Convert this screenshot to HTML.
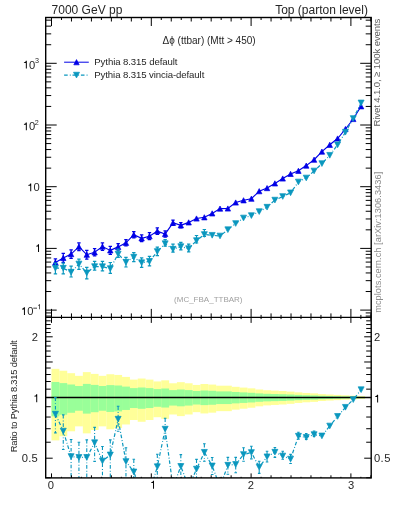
<!DOCTYPE html>
<html><head><meta charset="utf-8"><style>
html,body{margin:0;padding:0;background:#fff;width:393px;height:512px;overflow:hidden;position:relative}
.t{position:absolute;font-family:"Liberation Sans",sans-serif;white-space:nowrap;line-height:1;color:#000}
</style></head><body>
<svg width="393" height="512" viewBox="0 0 393 512" style="position:absolute;left:0;top:0">
<g fill="#ffff99" stroke="none"><rect x="51.50" y="368.84" width="7.89" height="71.56"/><rect x="59.34" y="370.74" width="7.89" height="65.50"/><rect x="67.18" y="373.18" width="7.89" height="58.10"/><rect x="75.01" y="375.84" width="7.89" height="50.51"/><rect x="82.85" y="372.13" width="7.89" height="61.23"/><rect x="90.69" y="373.89" width="7.89" height="56.04"/><rect x="98.53" y="375.84" width="7.89" height="50.51"/><rect x="106.37" y="374.24" width="7.89" height="55.03"/><rect x="114.21" y="374.95" width="7.89" height="53.01"/><rect x="122.04" y="376.91" width="7.89" height="47.57"/><rect x="129.88" y="379.61" width="7.89" height="40.39"/><rect x="137.72" y="378.53" width="7.89" height="43.23"/><rect x="145.56" y="379.61" width="7.89" height="40.39"/><rect x="153.40" y="381.44" width="7.89" height="35.75"/><rect x="161.24" y="380.34" width="7.89" height="38.52"/><rect x="169.07" y="383.28" width="7.89" height="31.21"/><rect x="176.91" y="382.17" width="7.89" height="33.93"/><rect x="184.75" y="383.28" width="7.89" height="31.21"/><rect x="192.59" y="384.95" width="7.89" height="27.21"/><rect x="200.43" y="384.02" width="7.89" height="29.42"/><rect x="208.27" y="384.58" width="7.89" height="28.09"/><rect x="216.10" y="385.70" width="7.89" height="25.45"/><rect x="223.94" y="385.70" width="7.89" height="25.45"/><rect x="231.78" y="386.83" width="7.89" height="22.83"/><rect x="239.62" y="387.58" width="7.89" height="21.11"/><rect x="247.46" y="388.34" width="7.89" height="19.39"/><rect x="255.30" y="389.48" width="7.89" height="16.84"/><rect x="263.13" y="390.25" width="7.89" height="15.15"/><rect x="270.97" y="390.63" width="7.89" height="14.32"/><rect x="278.81" y="391.02" width="7.89" height="13.48"/><rect x="286.65" y="391.60" width="7.89" height="12.23"/><rect x="294.49" y="392.37" width="7.89" height="10.57"/><rect x="302.32" y="392.96" width="7.89" height="9.33"/><rect x="310.16" y="393.35" width="7.89" height="8.51"/><rect x="318.00" y="394.13" width="7.89" height="6.87"/><rect x="325.84" y="394.53" width="7.89" height="6.05"/><rect x="333.68" y="394.92" width="7.89" height="5.24"/><rect x="341.52" y="395.31" width="7.89" height="4.43"/><rect x="349.35" y="395.71" width="7.89" height="3.62"/><rect x="357.19" y="396.11" width="7.89" height="2.81"/></g>
<g fill="#99ff99" stroke="none"><rect x="51.50" y="382.00" width="7.89" height="34.35"/><rect x="59.34" y="383.10" width="7.89" height="31.64"/><rect x="67.18" y="384.50" width="7.89" height="28.27"/><rect x="75.01" y="386.00" width="7.89" height="24.74"/><rect x="82.85" y="383.90" width="7.89" height="29.71"/><rect x="90.69" y="384.90" width="7.89" height="27.32"/><rect x="98.53" y="386.00" width="7.89" height="24.74"/><rect x="106.37" y="385.10" width="7.89" height="26.85"/><rect x="114.21" y="385.50" width="7.89" height="25.91"/><rect x="122.04" y="386.60" width="7.89" height="23.35"/><rect x="129.88" y="388.10" width="7.89" height="19.93"/><rect x="137.72" y="387.50" width="7.89" height="21.29"/><rect x="145.56" y="388.10" width="7.89" height="19.93"/><rect x="153.40" y="389.10" width="7.89" height="17.69"/><rect x="161.24" y="388.50" width="7.89" height="19.03"/><rect x="169.07" y="390.10" width="7.89" height="15.48"/><rect x="176.91" y="389.50" width="7.89" height="16.80"/><rect x="184.75" y="390.10" width="7.89" height="15.48"/><rect x="192.59" y="391.00" width="7.89" height="13.52"/><rect x="200.43" y="390.50" width="7.89" height="14.61"/><rect x="208.27" y="390.80" width="7.89" height="13.96"/><rect x="216.10" y="391.40" width="7.89" height="12.66"/><rect x="223.94" y="391.40" width="7.89" height="12.66"/><rect x="231.78" y="392.00" width="7.89" height="11.37"/><rect x="239.62" y="392.40" width="7.89" height="10.52"/><rect x="247.46" y="392.80" width="7.89" height="9.67"/><rect x="255.30" y="393.40" width="7.89" height="8.40"/><rect x="263.13" y="393.80" width="7.89" height="7.56"/><rect x="270.97" y="394.00" width="7.89" height="7.15"/><rect x="278.81" y="394.20" width="7.89" height="6.73"/><rect x="286.65" y="394.50" width="7.89" height="6.11"/><rect x="294.49" y="394.90" width="7.89" height="5.28"/><rect x="302.32" y="395.20" width="7.89" height="4.66"/><rect x="310.16" y="395.40" width="7.89" height="4.25"/><rect x="318.00" y="395.80" width="7.89" height="3.43"/><rect x="325.84" y="396.00" width="7.89" height="3.03"/><rect x="333.68" y="396.20" width="7.89" height="2.62"/><rect x="341.52" y="396.40" width="7.89" height="2.21"/><rect x="349.35" y="396.60" width="7.89" height="1.81"/><rect x="357.19" y="396.80" width="7.89" height="1.41"/></g>
<clipPath id="cm"><rect x="45.7" y="17.5" width="325.5" height="299.9"/></clipPath>
<clipPath id="cr"><rect x="45.7" y="317.4" width="325.5" height="160.5"/></clipPath>
<g clip-path="url(#cm)">
<polyline points="55.42,262.40 63.26,257.90 71.10,254.10 78.93,246.70 86.77,254.70 94.61,252.30 102.45,246.60 110.29,250.40 118.13,246.90 125.96,242.80 133.80,234.70 141.64,238.30 149.48,236.20 157.32,231.10 165.15,234.00 172.99,222.80 180.83,225.30 188.67,222.40 196.51,218.50 204.35,217.30 212.18,213.40 220.02,208.60 227.86,208.50 235.70,202.50 243.54,200.30 251.38,198.70 259.21,191.20 267.05,188.10 274.89,183.40 282.73,178.50 290.57,173.90 298.41,170.80 306.24,165.60 314.08,159.70 321.92,151.60 329.76,144.80 337.60,138.50 345.44,129.00 353.27,119.00 361.11,106.30" fill="none" stroke="#0000e6" stroke-width="1.15"/>
<path d="M55.42,258.90V265.90M53.72,258.90h3.4M53.72,265.90h3.4" stroke="#0000e6" stroke-width="1.2" fill="none"/>
<path d="M55.42,259.80L58.12,265.00L52.72,265.00Z" fill="#0000e6" stroke="#0000e6" stroke-width="0.7" stroke-linejoin="round"/>
<path d="M63.26,253.40V262.40M61.56,253.40h3.4M61.56,262.40h3.4" stroke="#0000e6" stroke-width="1.2" fill="none"/>
<path d="M63.26,255.30L65.96,260.50L60.56,260.50Z" fill="#0000e6" stroke="#0000e6" stroke-width="0.7" stroke-linejoin="round"/>
<path d="M71.10,249.80V258.40M69.40,249.80h3.4M69.40,258.40h3.4" stroke="#0000e6" stroke-width="1.2" fill="none"/>
<path d="M71.10,251.50L73.80,256.70L68.40,256.70Z" fill="#0000e6" stroke="#0000e6" stroke-width="0.7" stroke-linejoin="round"/>
<path d="M78.93,242.80V250.60M77.23,242.80h3.4M77.23,250.60h3.4" stroke="#0000e6" stroke-width="1.2" fill="none"/>
<path d="M78.93,244.10L81.63,249.30L76.23,249.30Z" fill="#0000e6" stroke="#0000e6" stroke-width="0.7" stroke-linejoin="round"/>
<path d="M86.77,250.30V259.10M85.07,250.30h3.4M85.07,259.10h3.4" stroke="#0000e6" stroke-width="1.2" fill="none"/>
<path d="M86.77,252.10L89.47,257.30L84.07,257.30Z" fill="#0000e6" stroke="#0000e6" stroke-width="0.7" stroke-linejoin="round"/>
<path d="M94.61,248.70V255.90M92.91,248.70h3.4M92.91,255.90h3.4" stroke="#0000e6" stroke-width="1.2" fill="none"/>
<path d="M94.61,249.70L97.31,254.90L91.91,254.90Z" fill="#0000e6" stroke="#0000e6" stroke-width="0.7" stroke-linejoin="round"/>
<path d="M102.45,242.90V250.30M100.75,242.90h3.4M100.75,250.30h3.4" stroke="#0000e6" stroke-width="1.2" fill="none"/>
<path d="M102.45,244.00L105.15,249.20L99.75,249.20Z" fill="#0000e6" stroke="#0000e6" stroke-width="0.7" stroke-linejoin="round"/>
<path d="M110.29,246.40V254.40M108.59,246.40h3.4M108.59,254.40h3.4" stroke="#0000e6" stroke-width="1.2" fill="none"/>
<path d="M110.29,247.80L112.99,253.00L107.59,253.00Z" fill="#0000e6" stroke="#0000e6" stroke-width="0.7" stroke-linejoin="round"/>
<path d="M118.13,243.70V250.10M116.43,243.70h3.4M116.43,250.10h3.4" stroke="#0000e6" stroke-width="1.2" fill="none"/>
<path d="M118.13,244.30L120.83,249.50L115.43,249.50Z" fill="#0000e6" stroke="#0000e6" stroke-width="0.7" stroke-linejoin="round"/>
<path d="M125.96,239.60V246.00M124.26,239.60h3.4M124.26,246.00h3.4" stroke="#0000e6" stroke-width="1.2" fill="none"/>
<path d="M125.96,240.20L128.66,245.40L123.26,245.40Z" fill="#0000e6" stroke="#0000e6" stroke-width="0.7" stroke-linejoin="round"/>
<path d="M133.80,231.60V237.80M132.10,231.60h3.4M132.10,237.80h3.4" stroke="#0000e6" stroke-width="1.2" fill="none"/>
<path d="M133.80,232.10L136.50,237.30L131.10,237.30Z" fill="#0000e6" stroke="#0000e6" stroke-width="0.7" stroke-linejoin="round"/>
<path d="M141.64,234.90V241.70M139.94,234.90h3.4M139.94,241.70h3.4" stroke="#0000e6" stroke-width="1.2" fill="none"/>
<path d="M141.64,235.70L144.34,240.90L138.94,240.90Z" fill="#0000e6" stroke="#0000e6" stroke-width="0.7" stroke-linejoin="round"/>
<path d="M149.48,232.70V239.70M147.78,232.70h3.4M147.78,239.70h3.4" stroke="#0000e6" stroke-width="1.2" fill="none"/>
<path d="M149.48,233.60L152.18,238.80L146.78,238.80Z" fill="#0000e6" stroke="#0000e6" stroke-width="0.7" stroke-linejoin="round"/>
<path d="M157.32,227.90V234.30M155.62,227.90h3.4M155.62,234.30h3.4" stroke="#0000e6" stroke-width="1.2" fill="none"/>
<path d="M157.32,228.50L160.02,233.70L154.62,233.70Z" fill="#0000e6" stroke="#0000e6" stroke-width="0.7" stroke-linejoin="round"/>
<path d="M165.15,230.80V237.20M163.45,230.80h3.4M163.45,237.20h3.4" stroke="#0000e6" stroke-width="1.2" fill="none"/>
<path d="M165.15,231.40L167.85,236.60L162.45,236.60Z" fill="#0000e6" stroke="#0000e6" stroke-width="0.7" stroke-linejoin="round"/>
<path d="M172.99,220.20V225.40M171.29,220.20h3.4M171.29,225.40h3.4" stroke="#0000e6" stroke-width="1.2" fill="none"/>
<path d="M172.99,220.20L175.69,225.40L170.29,225.40Z" fill="#0000e6" stroke="#0000e6" stroke-width="0.7" stroke-linejoin="round"/>
<path d="M180.83,222.70V227.90M179.13,222.70h3.4M179.13,227.90h3.4" stroke="#0000e6" stroke-width="1.2" fill="none"/>
<path d="M180.83,222.70L183.53,227.90L178.13,227.90Z" fill="#0000e6" stroke="#0000e6" stroke-width="0.7" stroke-linejoin="round"/>
<path d="M188.67,219.80L191.37,225.00L185.97,225.00Z" fill="#0000e6" stroke="#0000e6" stroke-width="0.7" stroke-linejoin="round"/>
<path d="M196.51,215.90L199.21,221.10L193.81,221.10Z" fill="#0000e6" stroke="#0000e6" stroke-width="0.7" stroke-linejoin="round"/>
<path d="M204.35,214.70L207.05,219.90L201.65,219.90Z" fill="#0000e6" stroke="#0000e6" stroke-width="0.7" stroke-linejoin="round"/>
<path d="M212.18,210.80L214.88,216.00L209.48,216.00Z" fill="#0000e6" stroke="#0000e6" stroke-width="0.7" stroke-linejoin="round"/>
<path d="M220.02,206.00L222.72,211.20L217.32,211.20Z" fill="#0000e6" stroke="#0000e6" stroke-width="0.7" stroke-linejoin="round"/>
<path d="M227.86,205.90L230.56,211.10L225.16,211.10Z" fill="#0000e6" stroke="#0000e6" stroke-width="0.7" stroke-linejoin="round"/>
<path d="M235.70,199.90L238.40,205.10L233.00,205.10Z" fill="#0000e6" stroke="#0000e6" stroke-width="0.7" stroke-linejoin="round"/>
<path d="M243.54,197.70L246.24,202.90L240.84,202.90Z" fill="#0000e6" stroke="#0000e6" stroke-width="0.7" stroke-linejoin="round"/>
<path d="M251.38,196.10L254.08,201.30L248.68,201.30Z" fill="#0000e6" stroke="#0000e6" stroke-width="0.7" stroke-linejoin="round"/>
<path d="M259.21,188.60L261.91,193.80L256.51,193.80Z" fill="#0000e6" stroke="#0000e6" stroke-width="0.7" stroke-linejoin="round"/>
<path d="M267.05,185.50L269.75,190.70L264.35,190.70Z" fill="#0000e6" stroke="#0000e6" stroke-width="0.7" stroke-linejoin="round"/>
<path d="M274.89,180.80L277.59,186.00L272.19,186.00Z" fill="#0000e6" stroke="#0000e6" stroke-width="0.7" stroke-linejoin="round"/>
<path d="M282.73,175.90L285.43,181.10L280.03,181.10Z" fill="#0000e6" stroke="#0000e6" stroke-width="0.7" stroke-linejoin="round"/>
<path d="M290.57,171.30L293.27,176.50L287.87,176.50Z" fill="#0000e6" stroke="#0000e6" stroke-width="0.7" stroke-linejoin="round"/>
<path d="M298.41,168.20L301.11,173.40L295.71,173.40Z" fill="#0000e6" stroke="#0000e6" stroke-width="0.7" stroke-linejoin="round"/>
<path d="M306.24,163.00L308.94,168.20L303.54,168.20Z" fill="#0000e6" stroke="#0000e6" stroke-width="0.7" stroke-linejoin="round"/>
<path d="M314.08,157.10L316.78,162.30L311.38,162.30Z" fill="#0000e6" stroke="#0000e6" stroke-width="0.7" stroke-linejoin="round"/>
<path d="M321.92,149.00L324.62,154.20L319.22,154.20Z" fill="#0000e6" stroke="#0000e6" stroke-width="0.7" stroke-linejoin="round"/>
<path d="M329.76,142.20L332.46,147.40L327.06,147.40Z" fill="#0000e6" stroke="#0000e6" stroke-width="0.7" stroke-linejoin="round"/>
<path d="M337.60,135.90L340.30,141.10L334.90,141.10Z" fill="#0000e6" stroke="#0000e6" stroke-width="0.7" stroke-linejoin="round"/>
<path d="M345.44,126.40L348.14,131.60L342.74,131.60Z" fill="#0000e6" stroke="#0000e6" stroke-width="0.7" stroke-linejoin="round"/>
<path d="M353.27,116.40L355.97,121.60L350.57,121.60Z" fill="#0000e6" stroke="#0000e6" stroke-width="0.7" stroke-linejoin="round"/>
<path d="M361.11,103.70L363.81,108.90L358.41,108.90Z" fill="#0000e6" stroke="#0000e6" stroke-width="0.7" stroke-linejoin="round"/>
<polyline points="55.42,268.20 63.26,268.20 71.10,272.20 78.93,264.00 86.77,272.90 94.61,266.60 102.45,266.70 110.29,268.60 118.13,254.00 125.96,262.20 133.80,257.20 141.64,262.70 149.48,261.40 157.32,251.50 165.15,243.70 172.99,249.20 180.83,246.60 188.67,248.60 196.51,240.60 204.35,234.50 212.18,235.30 220.02,236.00 227.86,229.70 235.70,223.50 243.54,218.00 251.38,215.60 259.21,211.60 267.05,207.20 274.89,200.10 282.73,196.50 290.57,192.80 298.41,182.00 306.24,178.00 314.08,171.00 321.92,163.60 329.76,155.30 337.60,144.80 345.44,132.20 353.27,118.50 361.11,102.90" fill="none" stroke="#0a97be" stroke-width="1.2" stroke-dasharray="3.6,2.1,0.9,1.8"/>
<path d="M55.42,263.2V273.8M53.72,263.2h3.4M53.72,273.8h3.4" stroke="#0a97be" stroke-width="1.2" fill="none"/>
<path d="M63.26,263.2V273.8M61.56,263.2h3.4M61.56,273.8h3.4" stroke="#0a97be" stroke-width="1.2" fill="none"/>
<path d="M71.10,266.2V277M69.40,266.2h3.4M69.40,277h3.4" stroke="#0a97be" stroke-width="1.2" fill="none"/>
<path d="M78.93,259.2V269.4M77.23,259.2h3.4M77.23,269.4h3.4" stroke="#0a97be" stroke-width="1.2" fill="none"/>
<path d="M86.77,267.4V278.9M85.07,267.4h3.4M85.07,278.9h3.4" stroke="#0a97be" stroke-width="1.2" fill="none"/>
<path d="M94.61,261.3V270.2M92.91,261.3h3.4M92.91,270.2h3.4" stroke="#0a97be" stroke-width="1.2" fill="none"/>
<path d="M102.45,261.3V270.8M100.75,261.3h3.4M100.75,270.8h3.4" stroke="#0a97be" stroke-width="1.2" fill="none"/>
<path d="M110.29,262.5V273.3M108.59,262.5h3.4M108.59,273.3h3.4" stroke="#0a97be" stroke-width="1.2" fill="none"/>
<path d="M118.13,249.2V257.4M116.43,249.2h3.4M116.43,257.4h3.4" stroke="#0a97be" stroke-width="1.2" fill="none"/>
<path d="M125.96,257.4V267M124.26,257.4h3.4M124.26,267h3.4" stroke="#0a97be" stroke-width="1.2" fill="none"/>
<path d="M133.80,252.6V261.7M132.10,252.6h3.4M132.10,261.7h3.4" stroke="#0a97be" stroke-width="1.2" fill="none"/>
<path d="M141.64,257.9V267.4M139.94,257.9h3.4M139.94,267.4h3.4" stroke="#0a97be" stroke-width="1.2" fill="none"/>
<path d="M149.48,256.4V265.8M147.78,256.4h3.4M147.78,265.8h3.4" stroke="#0a97be" stroke-width="1.2" fill="none"/>
<path d="M157.32,247.1V255.6M155.62,247.1h3.4M155.62,255.6h3.4" stroke="#0a97be" stroke-width="1.2" fill="none"/>
<path d="M165.15,239.5V246.2M163.45,239.5h3.4M163.45,246.2h3.4" stroke="#0a97be" stroke-width="1.2" fill="none"/>
<path d="M172.99,244.2V252.2M171.29,244.2h3.4M171.29,252.2h3.4" stroke="#0a97be" stroke-width="1.2" fill="none"/>
<path d="M180.83,242.3V249.9M179.13,242.3h3.4M179.13,249.9h3.4" stroke="#0a97be" stroke-width="1.2" fill="none"/>
<path d="M188.67,244.2V251.8M186.97,244.2h3.4M186.97,251.8h3.4" stroke="#0a97be" stroke-width="1.2" fill="none"/>
<path d="M196.51,235.5V243M194.81,235.5h3.4M194.81,243h3.4" stroke="#0a97be" stroke-width="1.2" fill="none"/>
<path d="M204.35,229.5V236.5M202.65,229.5h3.4M202.65,236.5h3.4" stroke="#0a97be" stroke-width="1.2" fill="none"/>
<path d="M55.42,271.05L58.42,265.35L52.42,265.35Z" fill="#0a97be" stroke="#0a97be" stroke-width="0.7" stroke-linejoin="round"/>
<path d="M63.26,271.05L66.26,265.35L60.26,265.35Z" fill="#0a97be" stroke="#0a97be" stroke-width="0.7" stroke-linejoin="round"/>
<path d="M71.10,275.05L74.10,269.35L68.10,269.35Z" fill="#0a97be" stroke="#0a97be" stroke-width="0.7" stroke-linejoin="round"/>
<path d="M78.93,266.85L81.93,261.15L75.93,261.15Z" fill="#0a97be" stroke="#0a97be" stroke-width="0.7" stroke-linejoin="round"/>
<path d="M86.77,275.75L89.77,270.05L83.77,270.05Z" fill="#0a97be" stroke="#0a97be" stroke-width="0.7" stroke-linejoin="round"/>
<path d="M94.61,269.45L97.61,263.75L91.61,263.75Z" fill="#0a97be" stroke="#0a97be" stroke-width="0.7" stroke-linejoin="round"/>
<path d="M102.45,269.55L105.45,263.85L99.45,263.85Z" fill="#0a97be" stroke="#0a97be" stroke-width="0.7" stroke-linejoin="round"/>
<path d="M110.29,271.45L113.29,265.75L107.29,265.75Z" fill="#0a97be" stroke="#0a97be" stroke-width="0.7" stroke-linejoin="round"/>
<path d="M118.13,256.85L121.13,251.15L115.13,251.15Z" fill="#0a97be" stroke="#0a97be" stroke-width="0.7" stroke-linejoin="round"/>
<path d="M125.96,265.05L128.96,259.35L122.96,259.35Z" fill="#0a97be" stroke="#0a97be" stroke-width="0.7" stroke-linejoin="round"/>
<path d="M133.80,260.05L136.80,254.35L130.80,254.35Z" fill="#0a97be" stroke="#0a97be" stroke-width="0.7" stroke-linejoin="round"/>
<path d="M141.64,265.55L144.64,259.85L138.64,259.85Z" fill="#0a97be" stroke="#0a97be" stroke-width="0.7" stroke-linejoin="round"/>
<path d="M149.48,264.25L152.48,258.55L146.48,258.55Z" fill="#0a97be" stroke="#0a97be" stroke-width="0.7" stroke-linejoin="round"/>
<path d="M157.32,254.35L160.32,248.65L154.32,248.65Z" fill="#0a97be" stroke="#0a97be" stroke-width="0.7" stroke-linejoin="round"/>
<path d="M165.15,246.55L168.15,240.85L162.15,240.85Z" fill="#0a97be" stroke="#0a97be" stroke-width="0.7" stroke-linejoin="round"/>
<path d="M172.99,252.05L175.99,246.35L169.99,246.35Z" fill="#0a97be" stroke="#0a97be" stroke-width="0.7" stroke-linejoin="round"/>
<path d="M180.83,249.45L183.83,243.75L177.83,243.75Z" fill="#0a97be" stroke="#0a97be" stroke-width="0.7" stroke-linejoin="round"/>
<path d="M188.67,251.45L191.67,245.75L185.67,245.75Z" fill="#0a97be" stroke="#0a97be" stroke-width="0.7" stroke-linejoin="round"/>
<path d="M196.51,243.45L199.51,237.75L193.51,237.75Z" fill="#0a97be" stroke="#0a97be" stroke-width="0.7" stroke-linejoin="round"/>
<path d="M204.35,237.35L207.35,231.65L201.35,231.65Z" fill="#0a97be" stroke="#0a97be" stroke-width="0.7" stroke-linejoin="round"/>
<path d="M212.18,238.15L215.18,232.45L209.18,232.45Z" fill="#0a97be" stroke="#0a97be" stroke-width="0.7" stroke-linejoin="round"/>
<path d="M220.02,238.85L223.02,233.15L217.02,233.15Z" fill="#0a97be" stroke="#0a97be" stroke-width="0.7" stroke-linejoin="round"/>
<path d="M227.86,232.55L230.86,226.85L224.86,226.85Z" fill="#0a97be" stroke="#0a97be" stroke-width="0.7" stroke-linejoin="round"/>
<path d="M235.70,226.35L238.70,220.65L232.70,220.65Z" fill="#0a97be" stroke="#0a97be" stroke-width="0.7" stroke-linejoin="round"/>
<path d="M243.54,220.85L246.54,215.15L240.54,215.15Z" fill="#0a97be" stroke="#0a97be" stroke-width="0.7" stroke-linejoin="round"/>
<path d="M251.38,218.45L254.38,212.75L248.38,212.75Z" fill="#0a97be" stroke="#0a97be" stroke-width="0.7" stroke-linejoin="round"/>
<path d="M259.21,214.45L262.21,208.75L256.21,208.75Z" fill="#0a97be" stroke="#0a97be" stroke-width="0.7" stroke-linejoin="round"/>
<path d="M267.05,210.05L270.05,204.35L264.05,204.35Z" fill="#0a97be" stroke="#0a97be" stroke-width="0.7" stroke-linejoin="round"/>
<path d="M274.89,202.95L277.89,197.25L271.89,197.25Z" fill="#0a97be" stroke="#0a97be" stroke-width="0.7" stroke-linejoin="round"/>
<path d="M282.73,199.35L285.73,193.65L279.73,193.65Z" fill="#0a97be" stroke="#0a97be" stroke-width="0.7" stroke-linejoin="round"/>
<path d="M290.57,195.65L293.57,189.95L287.57,189.95Z" fill="#0a97be" stroke="#0a97be" stroke-width="0.7" stroke-linejoin="round"/>
<path d="M298.41,184.85L301.41,179.15L295.41,179.15Z" fill="#0a97be" stroke="#0a97be" stroke-width="0.7" stroke-linejoin="round"/>
<path d="M306.24,180.85L309.24,175.15L303.24,175.15Z" fill="#0a97be" stroke="#0a97be" stroke-width="0.7" stroke-linejoin="round"/>
<path d="M314.08,173.85L317.08,168.15L311.08,168.15Z" fill="#0a97be" stroke="#0a97be" stroke-width="0.7" stroke-linejoin="round"/>
<path d="M321.92,166.45L324.92,160.75L318.92,160.75Z" fill="#0a97be" stroke="#0a97be" stroke-width="0.7" stroke-linejoin="round"/>
<path d="M329.76,158.15L332.76,152.45L326.76,152.45Z" fill="#0a97be" stroke="#0a97be" stroke-width="0.7" stroke-linejoin="round"/>
<path d="M337.60,147.65L340.60,141.95L334.60,141.95Z" fill="#0a97be" stroke="#0a97be" stroke-width="0.7" stroke-linejoin="round"/>
<path d="M345.44,135.05L348.44,129.35L342.44,129.35Z" fill="#0a97be" stroke="#0a97be" stroke-width="0.7" stroke-linejoin="round"/>
<path d="M353.27,121.35L356.27,115.65L350.27,115.65Z" fill="#0a97be" stroke="#0a97be" stroke-width="0.7" stroke-linejoin="round"/>
<path d="M361.11,105.75L364.11,100.05L358.11,100.05Z" fill="#0a97be" stroke="#0a97be" stroke-width="0.7" stroke-linejoin="round"/>
</g>
<g clip-path="url(#cr)">
<line x1="45.7" y1="397.5" x2="371.2" y2="397.5" stroke="#000" stroke-width="1.3"/>
<polyline points="55.42,414.20 63.26,431.10 71.10,456.50 78.93,457.40 86.77,457.40 94.61,442.70 102.45,461.00 110.29,454.90 118.13,419.20 125.96,461.50 133.80,471.90 141.64,492.90 149.48,492.90 157.32,466.70 165.15,429.10 172.99,486.90 180.83,466.40 188.67,486.90 196.51,469.10 204.35,452.30 212.18,465.90 220.02,486.90 227.86,465.20 235.70,464.40 243.54,454.50 251.38,452.50 259.21,467.10 267.05,456.80 274.89,452.20 282.73,456.00 290.57,459.10 298.41,436.20 306.24,437.40 314.08,434.60 321.92,435.90 329.76,426.00 337.60,416.40 345.44,407.30 353.27,399.60 361.11,389.70" fill="none" stroke="#0a97be" stroke-width="1.2" stroke-dasharray="3.6,2.1,0.9,1.8"/>
<path d="M55.42,397.5V432.9" stroke="#0a97be" stroke-width="1.1" fill="none" stroke-dasharray="3.6,2.1,0.9,1.8"/><path d="M54.12,397.5h2.6M54.12,432.9h2.6" stroke="#0a97be" stroke-width="1.1"/>
<path d="M55.42,417.05L58.42,411.35L52.42,411.35Z" fill="#0a97be" stroke="#0a97be" stroke-width="0.7" stroke-linejoin="round"/>
<path d="M63.26,414.9V449.5" stroke="#0a97be" stroke-width="1.1" fill="none" stroke-dasharray="3.6,2.1,0.9,1.8"/><path d="M61.96,414.9h2.6M61.96,449.5h2.6" stroke="#0a97be" stroke-width="1.1"/>
<path d="M63.26,433.95L66.26,428.25L60.26,428.25Z" fill="#0a97be" stroke="#0a97be" stroke-width="0.7" stroke-linejoin="round"/>
<path d="M71.10,439.5V490" stroke="#0a97be" stroke-width="1.1" fill="none" stroke-dasharray="3.6,2.1,0.9,1.8"/><path d="M69.80,439.5h2.6M69.80,490h2.6" stroke="#0a97be" stroke-width="1.1"/>
<path d="M71.10,459.35L74.10,453.65L68.10,453.65Z" fill="#0a97be" stroke="#0a97be" stroke-width="0.7" stroke-linejoin="round"/>
<path d="M78.93,442.3V490" stroke="#0a97be" stroke-width="1.1" fill="none" stroke-dasharray="3.6,2.1,0.9,1.8"/><path d="M77.63,442.3h2.6M77.63,490h2.6" stroke="#0a97be" stroke-width="1.1"/>
<path d="M78.93,460.25L81.93,454.55L75.93,454.55Z" fill="#0a97be" stroke="#0a97be" stroke-width="0.7" stroke-linejoin="round"/>
<path d="M86.77,439.9V490" stroke="#0a97be" stroke-width="1.1" fill="none" stroke-dasharray="3.6,2.1,0.9,1.8"/><path d="M85.47,439.9h2.6M85.47,490h2.6" stroke="#0a97be" stroke-width="1.1"/>
<path d="M86.77,460.25L89.77,454.55L83.77,454.55Z" fill="#0a97be" stroke="#0a97be" stroke-width="0.7" stroke-linejoin="round"/>
<path d="M94.61,427.4V461.4" stroke="#0a97be" stroke-width="1.1" fill="none" stroke-dasharray="3.6,2.1,0.9,1.8"/><path d="M93.31,427.4h2.6M93.31,461.4h2.6" stroke="#0a97be" stroke-width="1.1"/>
<path d="M94.61,445.55L97.61,439.85L91.61,439.85Z" fill="#0a97be" stroke="#0a97be" stroke-width="0.7" stroke-linejoin="round"/>
<path d="M102.45,446.5V490" stroke="#0a97be" stroke-width="1.1" fill="none" stroke-dasharray="3.6,2.1,0.9,1.8"/><path d="M101.15,446.5h2.6M101.15,490h2.6" stroke="#0a97be" stroke-width="1.1"/>
<path d="M102.45,463.85L105.45,458.15L99.45,458.15Z" fill="#0a97be" stroke="#0a97be" stroke-width="0.7" stroke-linejoin="round"/>
<path d="M110.29,439.9V490" stroke="#0a97be" stroke-width="1.1" fill="none" stroke-dasharray="3.6,2.1,0.9,1.8"/><path d="M108.99,439.9h2.6M108.99,490h2.6" stroke="#0a97be" stroke-width="1.1"/>
<path d="M110.29,457.75L113.29,452.05L107.29,452.05Z" fill="#0a97be" stroke="#0a97be" stroke-width="0.7" stroke-linejoin="round"/>
<path d="M118.13,406.3V431.2" stroke="#0a97be" stroke-width="1.1" fill="none" stroke-dasharray="3.6,2.1,0.9,1.8"/><path d="M116.83,406.3h2.6M116.83,431.2h2.6" stroke="#0a97be" stroke-width="1.1"/>
<path d="M118.13,422.05L121.13,416.35L115.13,416.35Z" fill="#0a97be" stroke="#0a97be" stroke-width="0.7" stroke-linejoin="round"/>
<path d="M125.96,447.8V490" stroke="#0a97be" stroke-width="1.1" fill="none" stroke-dasharray="3.6,2.1,0.9,1.8"/><path d="M124.66,447.8h2.6M124.66,490h2.6" stroke="#0a97be" stroke-width="1.1"/>
<path d="M125.96,464.35L128.96,458.65L122.96,458.65Z" fill="#0a97be" stroke="#0a97be" stroke-width="0.7" stroke-linejoin="round"/>
<path d="M133.80,459.3V490" stroke="#0a97be" stroke-width="1.1" fill="none" stroke-dasharray="3.6,2.1,0.9,1.8"/><path d="M132.50,459.3h2.6M132.50,490h2.6" stroke="#0a97be" stroke-width="1.1"/>
<path d="M133.80,474.75L136.80,469.05L130.80,469.05Z" fill="#0a97be" stroke="#0a97be" stroke-width="0.7" stroke-linejoin="round"/>
<path d="M141.64,480V500" stroke="#0a97be" stroke-width="1.1" fill="none" stroke-dasharray="3.6,2.1,0.9,1.8"/><path d="M140.34,480h2.6M140.34,500h2.6" stroke="#0a97be" stroke-width="1.1"/>
<path d="M141.64,495.75L144.64,490.05L138.64,490.05Z" fill="#0a97be" stroke="#0a97be" stroke-width="0.7" stroke-linejoin="round"/>
<path d="M149.48,480V500" stroke="#0a97be" stroke-width="1.1" fill="none" stroke-dasharray="3.6,2.1,0.9,1.8"/><path d="M148.18,480h2.6M148.18,500h2.6" stroke="#0a97be" stroke-width="1.1"/>
<path d="M149.48,495.75L152.48,490.05L146.48,490.05Z" fill="#0a97be" stroke="#0a97be" stroke-width="0.7" stroke-linejoin="round"/>
<path d="M157.32,454.3V490" stroke="#0a97be" stroke-width="1.1" fill="none" stroke-dasharray="3.6,2.1,0.9,1.8"/><path d="M156.02,454.3h2.6M156.02,490h2.6" stroke="#0a97be" stroke-width="1.1"/>
<path d="M157.32,469.55L160.32,463.85L154.32,463.85Z" fill="#0a97be" stroke="#0a97be" stroke-width="0.7" stroke-linejoin="round"/>
<path d="M165.15,418.3V439" stroke="#0a97be" stroke-width="1.1" fill="none" stroke-dasharray="3.6,2.1,0.9,1.8"/><path d="M163.85,418.3h2.6M163.85,439h2.6" stroke="#0a97be" stroke-width="1.1"/>
<path d="M165.15,431.95L168.15,426.25L162.15,426.25Z" fill="#0a97be" stroke="#0a97be" stroke-width="0.7" stroke-linejoin="round"/>
<path d="M172.99,478V500" stroke="#0a97be" stroke-width="1.1" fill="none" stroke-dasharray="3.6,2.1,0.9,1.8"/><path d="M171.69,478h2.6M171.69,500h2.6" stroke="#0a97be" stroke-width="1.1"/>
<path d="M172.99,489.75L175.99,484.05L169.99,484.05Z" fill="#0a97be" stroke="#0a97be" stroke-width="0.7" stroke-linejoin="round"/>
<path d="M180.83,454.6V490" stroke="#0a97be" stroke-width="1.1" fill="none" stroke-dasharray="3.6,2.1,0.9,1.8"/><path d="M179.53,454.6h2.6M179.53,490h2.6" stroke="#0a97be" stroke-width="1.1"/>
<path d="M180.83,469.25L183.83,463.55L177.83,463.55Z" fill="#0a97be" stroke="#0a97be" stroke-width="0.7" stroke-linejoin="round"/>
<path d="M188.67,478V500" stroke="#0a97be" stroke-width="1.1" fill="none" stroke-dasharray="3.6,2.1,0.9,1.8"/><path d="M187.37,478h2.6M187.37,500h2.6" stroke="#0a97be" stroke-width="1.1"/>
<path d="M188.67,489.75L191.67,484.05L185.67,484.05Z" fill="#0a97be" stroke="#0a97be" stroke-width="0.7" stroke-linejoin="round"/>
<path d="M196.51,459.4V490" stroke="#0a97be" stroke-width="1.1" fill="none" stroke-dasharray="3.6,2.1,0.9,1.8"/><path d="M195.21,459.4h2.6M195.21,490h2.6" stroke="#0a97be" stroke-width="1.1"/>
<path d="M196.51,471.95L199.51,466.25L193.51,466.25Z" fill="#0a97be" stroke="#0a97be" stroke-width="0.7" stroke-linejoin="round"/>
<path d="M204.35,443.8V461.3" stroke="#0a97be" stroke-width="1.1" fill="none" stroke-dasharray="3.6,2.1,0.9,1.8"/><path d="M203.05,443.8h2.6M203.05,461.3h2.6" stroke="#0a97be" stroke-width="1.1"/>
<path d="M204.35,455.15L207.35,449.45L201.35,449.45Z" fill="#0a97be" stroke="#0a97be" stroke-width="0.7" stroke-linejoin="round"/>
<path d="M212.18,457.5V474.5" stroke="#0a97be" stroke-width="1.1" fill="none" stroke-dasharray="3.6,2.1,0.9,1.8"/><path d="M210.88,457.5h2.6M210.88,474.5h2.6" stroke="#0a97be" stroke-width="1.1"/>
<path d="M212.18,468.75L215.18,463.05L209.18,463.05Z" fill="#0a97be" stroke="#0a97be" stroke-width="0.7" stroke-linejoin="round"/>
<path d="M220.02,478V500" stroke="#0a97be" stroke-width="1.1" fill="none" stroke-dasharray="3.6,2.1,0.9,1.8"/><path d="M218.72,478h2.6M218.72,500h2.6" stroke="#0a97be" stroke-width="1.1"/>
<path d="M220.02,489.75L223.02,484.05L217.02,484.05Z" fill="#0a97be" stroke="#0a97be" stroke-width="0.7" stroke-linejoin="round"/>
<path d="M227.86,457.4V474.2" stroke="#0a97be" stroke-width="1.1" fill="none" stroke-dasharray="3.6,2.1,0.9,1.8"/><path d="M226.56,457.4h2.6M226.56,474.2h2.6" stroke="#0a97be" stroke-width="1.1"/>
<path d="M227.86,468.05L230.86,462.35L224.86,462.35Z" fill="#0a97be" stroke="#0a97be" stroke-width="0.7" stroke-linejoin="round"/>
<path d="M235.70,457.4V472.7" stroke="#0a97be" stroke-width="1.1" fill="none" stroke-dasharray="3.6,2.1,0.9,1.8"/><path d="M234.40,457.4h2.6M234.40,472.7h2.6" stroke="#0a97be" stroke-width="1.1"/>
<path d="M235.70,467.25L238.70,461.55L232.70,461.55Z" fill="#0a97be" stroke="#0a97be" stroke-width="0.7" stroke-linejoin="round"/>
<path d="M243.54,447.8V461.2" stroke="#0a97be" stroke-width="1.1" fill="none" stroke-dasharray="3.6,2.1,0.9,1.8"/><path d="M242.24,447.8h2.6M242.24,461.2h2.6" stroke="#0a97be" stroke-width="1.1"/>
<path d="M243.54,457.35L246.54,451.65L240.54,451.65Z" fill="#0a97be" stroke="#0a97be" stroke-width="0.7" stroke-linejoin="round"/>
<path d="M251.38,446.3V458.9" stroke="#0a97be" stroke-width="1.1" fill="none" stroke-dasharray="3.6,2.1,0.9,1.8"/><path d="M250.08,446.3h2.6M250.08,458.9h2.6" stroke="#0a97be" stroke-width="1.1"/>
<path d="M251.38,455.35L254.38,449.65L248.38,449.65Z" fill="#0a97be" stroke="#0a97be" stroke-width="0.7" stroke-linejoin="round"/>
<path d="M259.21,461.2V473.4" stroke="#0a97be" stroke-width="1.1" fill="none" stroke-dasharray="3.6,2.1,0.9,1.8"/><path d="M257.91,461.2h2.6M257.91,473.4h2.6" stroke="#0a97be" stroke-width="1.1"/>
<path d="M259.21,469.95L262.21,464.25L256.21,464.25Z" fill="#0a97be" stroke="#0a97be" stroke-width="0.7" stroke-linejoin="round"/>
<path d="M267.05,451.3V462" stroke="#0a97be" stroke-width="1.1" fill="none" stroke-dasharray="3.6,2.1,0.9,1.8"/><path d="M265.75,451.3h2.6M265.75,462h2.6" stroke="#0a97be" stroke-width="1.1"/>
<path d="M267.05,459.65L270.05,453.95L264.05,453.95Z" fill="#0a97be" stroke="#0a97be" stroke-width="0.7" stroke-linejoin="round"/>
<path d="M274.89,447.5V457.4" stroke="#0a97be" stroke-width="1.1" fill="none" stroke-dasharray="3.6,2.1,0.9,1.8"/><path d="M273.59,447.5h2.6M273.59,457.4h2.6" stroke="#0a97be" stroke-width="1.1"/>
<path d="M274.89,455.05L277.89,449.35L271.89,449.35Z" fill="#0a97be" stroke="#0a97be" stroke-width="0.7" stroke-linejoin="round"/>
<path d="M282.73,451.3V459.3" stroke="#0a97be" stroke-width="1.1" fill="none" stroke-dasharray="3.6,2.1,0.9,1.8"/><path d="M281.43,451.3h2.6M281.43,459.3h2.6" stroke="#0a97be" stroke-width="1.1"/>
<path d="M282.73,458.85L285.73,453.15L279.73,453.15Z" fill="#0a97be" stroke="#0a97be" stroke-width="0.7" stroke-linejoin="round"/>
<path d="M290.57,454.4V463.5" stroke="#0a97be" stroke-width="1.1" fill="none" stroke-dasharray="3.6,2.1,0.9,1.8"/><path d="M289.27,454.4h2.6M289.27,463.5h2.6" stroke="#0a97be" stroke-width="1.1"/>
<path d="M290.57,461.95L293.57,456.25L287.57,456.25Z" fill="#0a97be" stroke="#0a97be" stroke-width="0.7" stroke-linejoin="round"/>
<path d="M298.41,432.2V439.1" stroke="#0a97be" stroke-width="1.1" fill="none" stroke-dasharray="3.6,2.1,0.9,1.8"/><path d="M297.11,432.2h2.6M297.11,439.1h2.6" stroke="#0a97be" stroke-width="1.1"/>
<path d="M298.41,439.05L301.41,433.35L295.41,433.35Z" fill="#0a97be" stroke="#0a97be" stroke-width="0.7" stroke-linejoin="round"/>
<path d="M306.24,433.5V439.5" stroke="#0a97be" stroke-width="1.1" fill="none" stroke-dasharray="3.6,2.1,0.9,1.8"/><path d="M304.94,433.5h2.6M304.94,439.5h2.6" stroke="#0a97be" stroke-width="1.1"/>
<path d="M306.24,440.25L309.24,434.55L303.24,434.55Z" fill="#0a97be" stroke="#0a97be" stroke-width="0.7" stroke-linejoin="round"/>
<path d="M314.08,431V436.5" stroke="#0a97be" stroke-width="1.1" fill="none" stroke-dasharray="3.6,2.1,0.9,1.8"/><path d="M312.78,431h2.6M312.78,436.5h2.6" stroke="#0a97be" stroke-width="1.1"/>
<path d="M314.08,437.45L317.08,431.75L311.08,431.75Z" fill="#0a97be" stroke="#0a97be" stroke-width="0.7" stroke-linejoin="round"/>
<path d="M321.92,438.75L324.92,433.05L318.92,433.05Z" fill="#0a97be" stroke="#0a97be" stroke-width="0.7" stroke-linejoin="round"/>
<path d="M329.76,428.85L332.76,423.15L326.76,423.15Z" fill="#0a97be" stroke="#0a97be" stroke-width="0.7" stroke-linejoin="round"/>
<path d="M337.60,419.25L340.60,413.55L334.60,413.55Z" fill="#0a97be" stroke="#0a97be" stroke-width="0.7" stroke-linejoin="round"/>
<path d="M345.44,410.15L348.44,404.45L342.44,404.45Z" fill="#0a97be" stroke="#0a97be" stroke-width="0.7" stroke-linejoin="round"/>
<path d="M353.27,402.45L356.27,396.75L350.27,396.75Z" fill="#0a97be" stroke="#0a97be" stroke-width="0.7" stroke-linejoin="round"/>
<path d="M361.11,392.55L364.11,386.85L358.11,386.85Z" fill="#0a97be" stroke="#0a97be" stroke-width="0.7" stroke-linejoin="round"/>
</g>
<rect x="45.7" y="17.5" width="325.5" height="460.4" fill="none" stroke="#000" stroke-width="1.4"/>
<line x1="45.7" y1="317.4" x2="371.2" y2="317.4" stroke="#000" stroke-width="1.4"/>
<path d="M45.7,316.08h5.5M371.2,316.08h-5.5M45.7,312.92h5.5M371.2,312.92h-5.5M45.7,310.10h11M371.2,310.10h-11M45.7,291.53h5.5M371.2,291.53h-5.5M45.7,280.66h5.5M371.2,280.66h-5.5M45.7,272.95h5.5M371.2,272.95h-5.5M45.7,266.97h5.5M371.2,266.97h-5.5M45.7,262.09h5.5M371.2,262.09h-5.5M45.7,257.96h5.5M371.2,257.96h-5.5M45.7,254.38h5.5M371.2,254.38h-5.5M45.7,251.22h5.5M371.2,251.22h-5.5M45.7,248.40h11M371.2,248.40h-11M45.7,229.83h5.5M371.2,229.83h-5.5M45.7,218.96h5.5M371.2,218.96h-5.5M45.7,211.25h5.5M371.2,211.25h-5.5M45.7,205.27h5.5M371.2,205.27h-5.5M45.7,200.39h5.5M371.2,200.39h-5.5M45.7,196.26h5.5M371.2,196.26h-5.5M45.7,192.68h5.5M371.2,192.68h-5.5M45.7,189.52h5.5M371.2,189.52h-5.5M45.7,186.70h11M371.2,186.70h-11M45.7,168.13h5.5M371.2,168.13h-5.5M45.7,157.26h5.5M371.2,157.26h-5.5M45.7,149.55h5.5M371.2,149.55h-5.5M45.7,143.57h5.5M371.2,143.57h-5.5M45.7,138.69h5.5M371.2,138.69h-5.5M45.7,134.56h5.5M371.2,134.56h-5.5M45.7,130.98h5.5M371.2,130.98h-5.5M45.7,127.82h5.5M371.2,127.82h-5.5M45.7,125.00h11M371.2,125.00h-11M45.7,106.43h5.5M371.2,106.43h-5.5M45.7,95.56h5.5M371.2,95.56h-5.5M45.7,87.85h5.5M371.2,87.85h-5.5M45.7,81.87h5.5M371.2,81.87h-5.5M45.7,76.99h5.5M371.2,76.99h-5.5M45.7,72.86h5.5M371.2,72.86h-5.5M45.7,69.28h5.5M371.2,69.28h-5.5M45.7,66.12h5.5M371.2,66.12h-5.5M45.7,63.30h11M371.2,63.30h-11M45.7,44.73h5.5M371.2,44.73h-5.5M45.7,33.86h5.5M371.2,33.86h-5.5M45.7,26.15h5.5M371.2,26.15h-5.5M45.7,20.17h5.5M371.2,20.17h-5.5M51.50,17.5v8.5M51.50,317.4v-8.5M51.50,317.4v5.5M51.50,477.9v-4.5M61.48,17.5v2.5M61.48,317.4v-2.5M61.48,317.4v1.7M61.48,477.9v-1.1M71.46,17.5v4M71.46,317.4v-4M71.46,317.4v2.5M71.46,477.9v-2.6M81.44,17.5v2.5M81.44,317.4v-2.5M81.44,317.4v1.7M81.44,477.9v-1.1M91.42,17.5v4M91.42,317.4v-4M91.42,317.4v2.5M91.42,477.9v-2.6M101.40,17.5v2.5M101.40,317.4v-2.5M101.40,317.4v1.7M101.40,477.9v-1.1M111.38,17.5v4M111.38,317.4v-4M111.38,317.4v2.5M111.38,477.9v-2.6M121.36,17.5v2.5M121.36,317.4v-2.5M121.36,317.4v1.7M121.36,477.9v-1.1M131.34,17.5v4M131.34,317.4v-4M131.34,317.4v2.5M131.34,477.9v-2.6M141.32,17.5v2.5M141.32,317.4v-2.5M141.32,317.4v1.7M141.32,477.9v-1.1M151.30,17.5v8.5M151.30,317.4v-8.5M151.30,317.4v5.5M151.30,477.9v-4.5M161.28,17.5v2.5M161.28,317.4v-2.5M161.28,317.4v1.7M161.28,477.9v-1.1M171.26,17.5v4M171.26,317.4v-4M171.26,317.4v2.5M171.26,477.9v-2.6M181.24,17.5v2.5M181.24,317.4v-2.5M181.24,317.4v1.7M181.24,477.9v-1.1M191.22,17.5v4M191.22,317.4v-4M191.22,317.4v2.5M191.22,477.9v-2.6M201.20,17.5v2.5M201.20,317.4v-2.5M201.20,317.4v1.7M201.20,477.9v-1.1M211.18,17.5v4M211.18,317.4v-4M211.18,317.4v2.5M211.18,477.9v-2.6M221.16,17.5v2.5M221.16,317.4v-2.5M221.16,317.4v1.7M221.16,477.9v-1.1M231.14,17.5v4M231.14,317.4v-4M231.14,317.4v2.5M231.14,477.9v-2.6M241.12,17.5v2.5M241.12,317.4v-2.5M241.12,317.4v1.7M241.12,477.9v-1.1M251.10,17.5v8.5M251.10,317.4v-8.5M251.10,317.4v5.5M251.10,477.9v-4.5M261.08,17.5v2.5M261.08,317.4v-2.5M261.08,317.4v1.7M261.08,477.9v-1.1M271.06,17.5v4M271.06,317.4v-4M271.06,317.4v2.5M271.06,477.9v-2.6M281.04,17.5v2.5M281.04,317.4v-2.5M281.04,317.4v1.7M281.04,477.9v-1.1M291.02,17.5v4M291.02,317.4v-4M291.02,317.4v2.5M291.02,477.9v-2.6M301.00,17.5v2.5M301.00,317.4v-2.5M301.00,317.4v1.7M301.00,477.9v-1.1M310.98,17.5v4M310.98,317.4v-4M310.98,317.4v2.5M310.98,477.9v-2.6M320.96,17.5v2.5M320.96,317.4v-2.5M320.96,317.4v1.7M320.96,477.9v-1.1M330.94,17.5v4M330.94,317.4v-4M330.94,317.4v2.5M330.94,477.9v-2.6M340.92,17.5v2.5M340.92,317.4v-2.5M340.92,317.4v1.7M340.92,477.9v-1.1M350.90,17.5v8.5M350.90,317.4v-8.5M350.90,317.4v5.5M350.90,477.9v-4.5M360.88,17.5v2.5M360.88,317.4v-2.5M360.88,317.4v1.7M360.88,477.9v-1.1M370.86,17.5v4M370.86,317.4v-4M370.86,317.4v2.5M370.86,477.9v-2.6M45.7,477.74h5M371.2,477.74h-5M45.7,458.20h7M371.2,458.20h-7M45.7,442.23h5M371.2,442.23h-5M45.7,428.73h5M371.2,428.73h-5M45.7,417.04h5M371.2,417.04h-5M45.7,406.73h5M371.2,406.73h-5M45.7,397.50h7M371.2,397.50h-7M45.7,389.15h5M371.2,389.15h-5M45.7,381.53h5M371.2,381.53h-5M45.7,374.52h5M371.2,374.52h-5M45.7,368.03h5M371.2,368.03h-5M45.7,361.99h7M371.2,361.99h-7M45.7,356.34h5M371.2,356.34h-5M45.7,351.03h5M371.2,351.03h-5M45.7,346.03h5M371.2,346.03h-5M45.7,341.29h5M371.2,341.29h-5M45.7,336.80h7M371.2,336.80h-7M45.7,332.53h5M371.2,332.53h-5M45.7,328.45h5M371.2,328.45h-5M45.7,324.56h5M371.2,324.56h-5M45.7,320.83h5M371.2,320.83h-5" stroke="#000" stroke-width="1" fill="none"/>
<line x1="64.1" y1="62.2" x2="88.8" y2="62.2" stroke="#0000e6" stroke-width="1"/>
<path d="M76.50,59.60L79.20,64.80L73.80,64.80Z" fill="#0000e6" stroke="#0000e6" stroke-width="0.7" stroke-linejoin="round"/>
<line x1="64.1" y1="75.2" x2="88.8" y2="75.2" stroke="#0a97be" stroke-width="1.2" stroke-dasharray="3.6,2.1,0.9,1.8"/>
<path d="M76.50,77.95L79.50,72.25L73.50,72.25Z" fill="#0a97be" stroke="#0a97be" stroke-width="0.7" stroke-linejoin="round"/>
</svg>
<svg width="393" height="512" style="position:absolute;left:0;top:0;will-change:transform" font-family="Liberation Sans, sans-serif" fill="#262626">
<text x="51.6" y="13.7" font-size="12">7000 GeV pp</text>
<text x="367.9" y="13.7" font-size="12" text-anchor="end">Top (parton level)</text>
<text x="162.5" y="43.5" font-size="10">Δϕ (ttbar) (Mtt &gt; 450)</text>
<text x="94.3" y="64.9" font-size="9.6" textLength="83.2" lengthAdjust="spacing">Pythia 8.315 default</text>
<text x="94.3" y="77.9" font-size="9.6" textLength="110" lengthAdjust="spacing">Pythia 8.315 vincia-default</text>
<text x="208.3" y="302.2" font-size="8" fill="#a0a0a0" text-anchor="middle">(MC_FBA_TTBAR)</text>
<g><text x="29.03" y="68.60" font-size="11.2">0</text><text x="35.00" y="63.00" font-size="7.2">3</text><text x="29.03" y="130.30" font-size="11.2">0</text><text x="34.70" y="125.10" font-size="7.2">2</text><text x="33.43" y="191.30" font-size="11.2">0</text><text x="27.13" y="315.00" font-size="11.2">0</text><text x="31.80" y="340.80" font-size="11.2">2</text><text x="21.80" y="462.10" font-size="11.2">0</text><text x="28.20" y="462.10" font-size="11.2">.</text><text x="31.50" y="462.10" font-size="11.2">5</text><text x="374.00" y="340.80" font-size="11.2">2</text><text x="374.10" y="461.90" font-size="11.2">0</text><text x="380.60" y="461.90" font-size="11.2">.</text><text x="384.30" y="461.90" font-size="11.2">5</text><text x="47.80" y="488.80" font-size="11.2">0</text><text x="247.70" y="488.70" font-size="11.2">2</text><text x="348.00" y="488.80" font-size="11.2">3</text></g><path d="M26.82,60.73L26.82,68.60L25.84,68.60L25.84,63.00L23.93,63.00L23.93,62.27L24.70,62.16L25.43,61.71L25.85,60.73ZM26.82,122.43L26.82,130.30L25.84,130.30L25.84,124.70L23.93,124.70L23.93,123.97L24.70,123.86L25.43,123.41L25.85,122.43ZM31.22,183.43L31.22,191.30L30.24,191.30L30.24,185.70L28.33,185.70L28.33,184.97L29.10,184.86L29.83,184.41L30.25,183.43ZM39.02,244.23L39.02,252.10L38.04,252.10L38.04,246.50L36.13,246.50L36.13,245.77L36.90,245.66L37.63,245.21L38.05,244.23ZM24.92,307.13L24.92,315.00L23.94,315.00L23.94,309.40L22.03,309.40L22.03,308.67L22.80,308.56L23.53,308.11L23.95,307.13ZM33.3,307.75h3.7v0.85h-3.7ZM39.78,304.14L39.78,309.20L39.15,309.20L39.15,305.60L37.93,305.60L37.93,305.13L38.42,305.06L38.89,304.77L39.16,304.14ZM37.22,394.33L37.22,402.20L36.24,402.20L36.24,396.60L34.33,396.60L34.33,395.87L35.10,395.76L35.83,395.31L36.25,394.33ZM378.12,394.63L378.12,402.50L377.14,402.50L377.14,396.90L375.23,396.90L375.23,396.17L376.00,396.06L376.73,395.61L377.15,394.63ZM154.02,480.83L154.02,488.70L153.04,488.70L153.04,483.10L151.13,483.10L151.13,482.37L151.90,482.26L152.63,481.81L153.05,480.83Z" fill="#000"/>
<text transform="translate(16.8,452.3) rotate(-90)" font-size="9.4" textLength="112" lengthAdjust="spacing">Ratio to Pythia 8.315 default</text>
<text transform="translate(379.9,126.6) rotate(-90)" font-size="9.6" fill="#606060" textLength="108" lengthAdjust="spacing">Rivet 4.1.0, ≥ 100k events</text>
<text transform="translate(381.0,312.8) rotate(-90)" font-size="9.2" fill="#8c8c8c" textLength="141" lengthAdjust="spacing">mcplots.cern.ch [arXiv:1306.3436]</text>
</svg>
</body></html>
